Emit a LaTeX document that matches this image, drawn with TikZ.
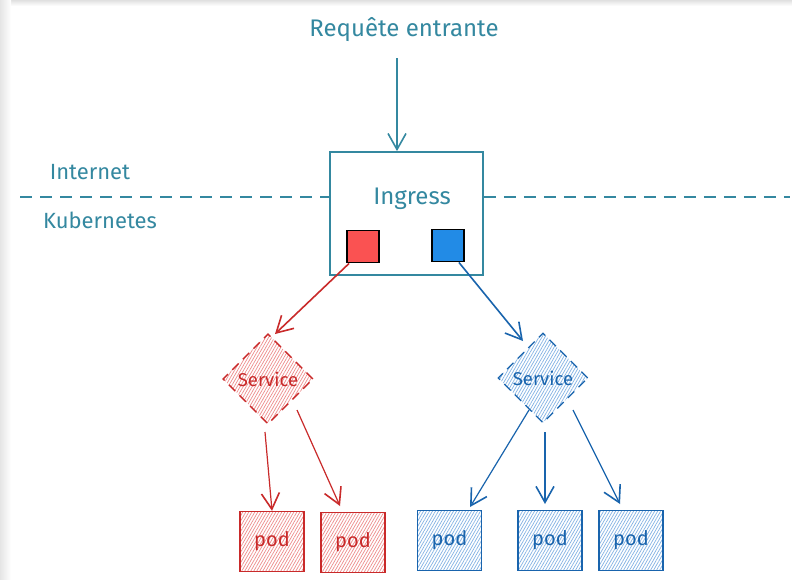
\documentclass[tikz,border=0pt]{standalone}
\usepackage{fontspec}
\setmainfont{Fira Sans}
\usetikzlibrary{arrows.meta,patterns.meta,shapes.geometric}
\definecolor{teal}{RGB}{52,136,160}
\definecolor{redline}{RGB}{201,42,42}
\definecolor{blueline}{RGB}{25,100,173}
\definecolor{redfill}{RGB}{250,82,82}
\definecolor{bluefill}{RGB}{34,139,230}
\definecolor{redhatch}{RGB}{238,140,140}
\definecolor{bluehatch}{RGB}{130,178,228}
\tikzset{
  x=1pt,y=-1pt,
  txt/.style={text=teal,font=\fontsize{24}{28}\selectfont},
  arr/.style={line width=1.6pt,-{Straight Barb[length=16pt,width=18pt,line width=1.6pt]}},
  box/.style={draw=teal,line width=1.8pt,minimum width=153pt,minimum height=123pt},
  sq/.style={draw=black,line width=1.8pt,minimum size=32pt,inner sep=0pt},
  svc/.style={diamond,minimum size=90pt,inner sep=0pt,dashed,dash pattern=on 9pt off 6pt,line width=1.3pt,font=\fontsize{18.5}{22}\selectfont},
  podbox/.style={minimum width=64pt,minimum height=60pt,inner sep=0pt,line width=1.4pt,font=\fontsize{20}{24}\selectfont},
  rhatch/.style={pattern={Lines[angle=60,distance=2.6pt,line width=0.7pt]},pattern color=redhatch},
  bhatch/.style={pattern={Lines[angle=60,distance=2.6pt,line width=0.7pt]},pattern color=bluehatch},
}
\begin{document}
\begin{tikzpicture}
\useasboundingbox (0,0) rectangle (792,579);
\fill[white] (0,0) rectangle (792,579);
\shade[top color=black!12,bottom color=white] (0,0) rectangle (792,6);
\shade[left color=black!10,right color=white] (0,0) rectangle (11,579);

% texts
\node[txt] (req) at (404,30) {Requête entrante};
\node[txt,font=\fontsize{22}{26}\selectfont] (inet) at (90,172) {Internet};
\node[txt,font=\fontsize{22}{26}\selectfont] (k8s) at (100,220) {Kubernetes};

% ingress
\node[box] (ing) at (406.5,213.5) {};
\node[txt] (ingt) at (412,199) {Ingress};
\coordinate (reqtop) at (397,58);
\draw[arr,draw=teal] (reqtop) -- (ing.north -| reqtop);

% dashed separator
\coordinate (dl1) at (20,197);
\coordinate (dl2) at (790,197);
\draw[teal,line width=1.2pt,dash pattern=on 12pt off 8pt] (dl1) -- (ing.west |- dl1);
\draw[teal,line width=1.2pt,dash pattern=on 12pt off 8pt] (ing.east |- dl2) -- (dl2);

% ports
\node[sq,fill=redfill] (rp) at (363,246.5) {};
\node[sq,fill=bluefill] (bp) at (448,245.5) {};

% services
\node[svc,draw=redline,rhatch,text=redline] (rs) at (268,379) {Service};
\node[svc,draw=blueline,bhatch,text=blueline] (bs) at (543,378) {Service};

\coordinate (rsin) at (275,334);
\coordinate (bsin) at (523,341);
\draw[arr,draw=redline] (rp.south west) ++(3,0) -- (rsin);
\draw[arr,draw=blueline] (bp.south east) ++(-6,0) -- (bsin);

% pods
\node[podbox,draw=redline,rhatch,text=redline] (r1) at (272,541.5) {pod};
\node[podbox,draw=redline,rhatch,text=redline] (r2) at (353,542.5) {pod};
\node[podbox,draw=blueline,bhatch,text=blueline] (b1) at (449.5,540.5) {pod};
\node[podbox,draw=blueline,bhatch,text=blueline] (b2) at (550,540.5) {pod};
\node[podbox,draw=blueline,bhatch,text=blueline] (b3) at (631,540.5) {pod};

\coordinate (r2in) at (340,506);
\coordinate (b1in) at (470,507);
\coordinate (b2in) at (545,504);
\coordinate (b3in) at (620,504);
\draw[arr,draw=redline,line width=1.2pt] (265,432) -- (r1.north);
\draw[arr,draw=redline,line width=1.2pt] (297,410) -- (r2in);
\draw[arr,draw=blueline,line width=1.2pt] (529,410) -- (b1in);
\draw[arr,draw=blueline,line width=1.2pt] (545,432) -- (b2in);
\draw[arr,draw=blueline,line width=1.2pt] (573,410) -- (b3in);
\end{tikzpicture}
\end{document}
